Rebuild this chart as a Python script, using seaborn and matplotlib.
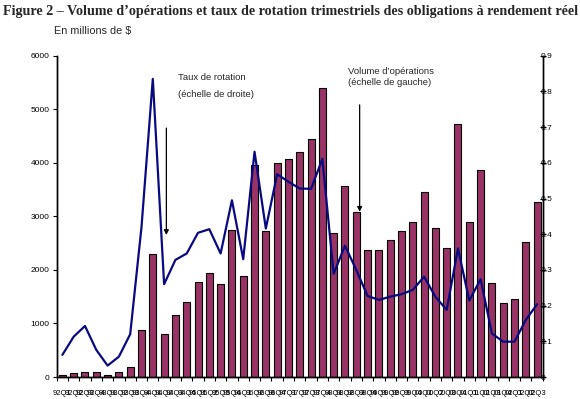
import numpy as np
import pandas as pd
import matplotlib
matplotlib.use("Agg")
import matplotlib.pyplot as plt
import seaborn as sns
from matplotlib.ticker import FuncFormatter, FixedLocator

# quarterly data, 1992Q1 - 2002Q3
quarters = [f"{y % 100:02d}Q{q}" for y in range(1992, 2003) for q in range(1, 5)][:43]

volume = [40, 75, 90, 90, 40, 90, 180, 870, 2295, 800,
          1150, 1410, 1770, 1950, 1730, 2740, 1880, 3950, 2720, 4000,
          4070, 4210, 4440, 5390, 2680, 3560, 3090, 2380, 2380, 2550,
          2720, 2890, 3450, 2790, 2400, 4730, 2890, 3870, 1750, 1390,
          1450, 2530, 3260]

turnover = [0.062, 0.113, 0.143, 0.076, 0.032, 0.057, 0.12, 0.42, 0.835, 0.26,
            0.328, 0.346, 0.404, 0.414, 0.346, 0.495, 0.33, 0.631, 0.416, 0.568,
            0.547, 0.528, 0.527, 0.611, 0.289, 0.368, 0.30, 0.227, 0.216, 0.225,
            0.232, 0.244, 0.281, 0.225, 0.188, 0.36, 0.214, 0.274, 0.122, 0.099,
            0.099, 0.16, 0.204]

df = pd.DataFrame({"trimestre": quarters, "volume": volume,
                   "taux": turnover, "pos": np.arange(len(quarters))})

sns.set_theme(style="white")
plt.rcParams["font.family"] = ["Liberation Sans", "DejaVu Sans"]

fig = plt.figure(figsize=(5.8, 3.99), dpi=100)
ax = fig.add_axes([0.0978, 0.0551, 0.838, 0.8053])

sns.barplot(data=df, x="trimestre", y="volume", color="#993366",
            edgecolor="black", linewidth=0.8, width=0.62, saturation=1, ax=ax)
ax.set_xlim(-0.5, len(quarters) - 0.5)
ax.set_ylim(0, 6000)
ax.set_yticks(range(0, 6001, 1000))
ax.set_xlabel("")
ax.set_ylabel("")

ax2 = ax.twinx()
sns.lineplot(data=df, x="pos", y="taux", color="#0a0a80", linewidth=1.6, ax=ax2)
ax2.set_ylim(0, 0.9)
ax2.set_yticks(np.arange(0, 0.91, 0.1))
ax2.yaxis.set_major_formatter(FuncFormatter(lambda v, p: "0" if v == 0 else f"{v:.1f}"))
ax2.set_xlabel("")
ax2.set_ylabel("")
ax2.set_xlim(-0.5, len(quarters) - 0.5)

for a in (ax, ax2):
    a.spines["top"].set_visible(False)
    for s in ("left", "right", "bottom"):
        a.spines[s].set_color("black")
        a.spines[s].set_linewidth(1.0)

ax.tick_params(axis="y", which="major", direction="out", length=3, width=0.8,
               labelsize=6, pad=2, left=True, colors="black")
ax2.tick_params(axis="y", which="major", direction="inout", length=5, width=0.8,
                labelsize=6, pad=-4, right=True, colors="black")

# category labels centred under bars, tick marks between categories
ax.set_xticks(np.arange(len(quarters)))
ax.set_xticklabels(quarters, fontsize=5.5)
ax.xaxis.set_minor_locator(FixedLocator(np.arange(-0.5, len(quarters), 1.0)))
ax.tick_params(axis="x", which="major", length=0, pad=9, colors="black")
ax.tick_params(axis="x", which="minor", bottom=True, direction="out",
               length=3, width=0.8, color="black")

# annotations
fig.text(0.005, 0.97, "Figure 2 \u2013 Volume d\u2019op\u00e9rations et taux de rotation "
         "trimestriels des obligations \u00e0 rendement r\u00e9el",
         fontsize=10.2, fontweight="bold", family=["Liberation Serif", "DejaVu Serif"],
         ha="left", va="center")
fig.text(54 / 580, 1 - 31 / 399, "En millions de $", fontsize=7.8, ha="left", va="center")

ax2.text(10.2, 0.84, "Taux de rotation", fontsize=6.8, ha="left", va="center")
ax2.text(10.2, 0.79, "(\u00e9chelle de droite)", fontsize=6.8, ha="left", va="center")
ax2.annotate("", xy=(9.2, 0.39), xytext=(9.2, 0.705),
             arrowprops=dict(arrowstyle="-|>", color="black", lw=0.9, mutation_scale=7))

ax2.text(25.3, 0.855, "Volume d\u2019op\u00e9rations", fontsize=6.8, ha="left", va="center")
ax2.text(25.3, 0.825, "(\u00e9chelle de gauche)", fontsize=6.8, ha="left", va="center")
ax2.annotate("", xy=(26.3, 0.455), xytext=(26.3, 0.77),
             arrowprops=dict(arrowstyle="-|>", color="black", lw=0.9, mutation_scale=7))

fig.savefig("out.png", dpi=100)
